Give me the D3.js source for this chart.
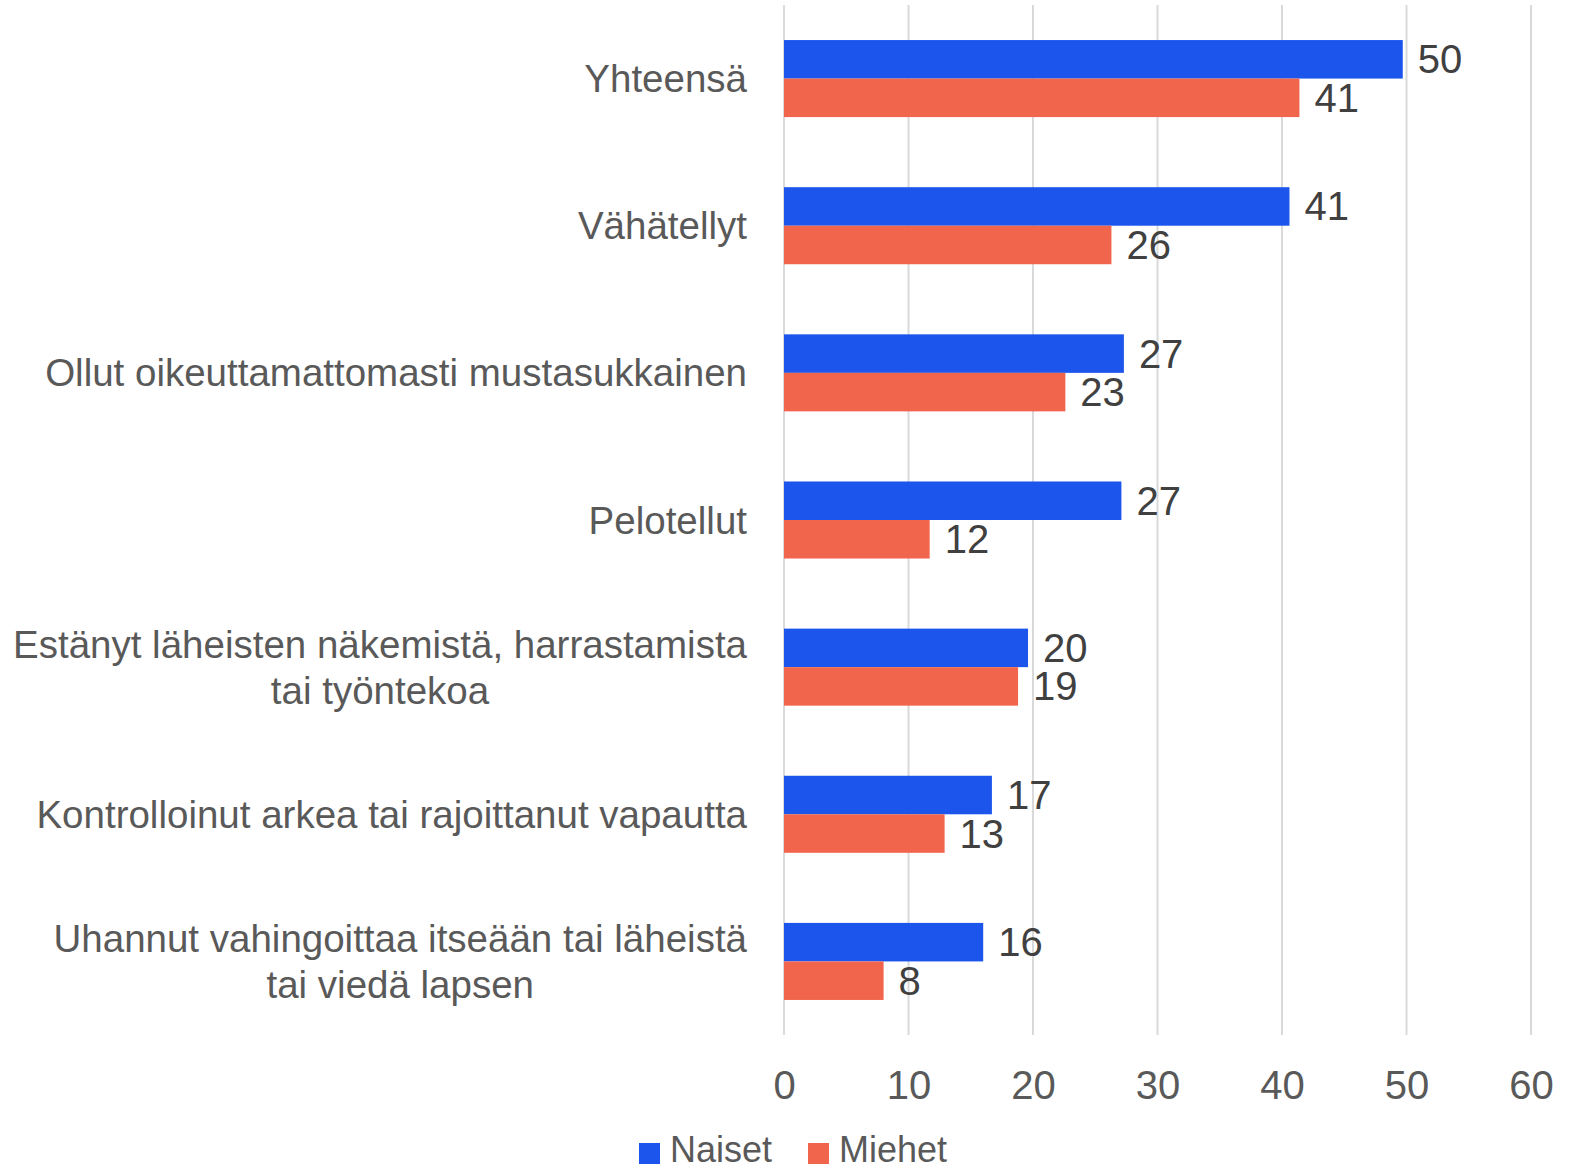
<!DOCTYPE html>
<html><head><meta charset="utf-8">
<script src="https://cdn.jsdelivr.net/npm/d3@7"></script>
<style>body{margin:0;background:#fff}svg{display:block}text{font-family:"Liberation Sans",Arial,sans-serif}</style>
</head><body><div id="chart"></div>
<script>
const categories = [
  ["Yhteensä"],
  ["Vähätellyt"],
  ["Ollut oikeuttamattomasti mustasukkainen"],
  ["Pelotellut"],
  ["Estänyt läheisten näkemistä, harrastamista", "tai työntekoa"],
  ["Kontrolloinut arkea tai rajoittanut vapautta"],
  ["Uhannut vahingoittaa itseään tai läheistä", "tai viedä lapsen"]
];
const seriesNames = ["Naiset", "Miehet"];
const naiset = [49.7, 40.6, 27.3, 27.1, 19.6, 16.7, 16.0];
const miehet = [41.4, 26.3, 22.6, 11.7, 18.8, 12.9, 8.0];
const xTicks = [0, 10, 20, 30, 40, 50, 60];
const colors = ["#1b55ec", "#f2654d"];

const W = 1580, H = 1170, fs = 38.5, fsNum = 40;
const svg = d3.select("#chart").append("svg").attr("width", W).attr("height", H);
const x = d3.scaleLinear().domain([0, 60]).range([784, 1531]);
const y = d3.scaleBand().domain(d3.range(categories.length)).range([5, 1035]);
const bw = y.bandwidth();
const barH = bw / 3.82;
const y1 = d3.scaleBand().domain(seriesNames).range([(bw - 2 * barH) / 2, (bw + 2 * barH) / 2]);

// gridlines
svg.append("g").selectAll("line").data(xTicks).join("line")
  .attr("x1", d => x(d)).attr("x2", d => x(d)).attr("y1", 5).attr("y2", 1035)
  .attr("stroke", "#d9d9d9").attr("stroke-width", 2);

// x axis tick labels
const xAxis = d3.axisBottom(x).tickValues(xTicks).tickSize(0).tickPadding(0);
const gx = svg.append("g").attr("transform", "translate(0,1085)").call(xAxis);
gx.select(".domain").remove();
gx.selectAll("text").attr("font-size", fsNum).attr("fill", "#595959").attr("dy", null)
  .attr("dominant-baseline", "central").attr("y", 0).style("font-family", '"Liberation Sans",Arial,sans-serif');

const data = [naiset, miehet];
seriesNames.forEach((s, si) => {
  const g = svg.append("g");
  g.selectAll("rect").data(data[si]).join("rect")
    .attr("x", x(0)).attr("y", (d, i) => y(i) + y1(s))
    .attr("width", d => x(d) - x(0)).attr("height", y1.bandwidth())
    .attr("fill", colors[si]);
  g.selectAll("text").data(data[si]).join("text")
    .attr("x", d => x(d) + 15).attr("y", (d, i) => y(i) + y1(s) + y1.bandwidth() / 2)
    .attr("dominant-baseline", "central").attr("font-size", fsNum).attr("fill", "#404040")
    .text(d => Math.round(d));
});

// category labels
const labelRight = 747, lineH = 46;
categories.forEach((lines, i) => {
  const cy = y(i) + bw / 2;
  const g = svg.append("g");
  const texts = lines.map((l, li) => g.append("text")
    .attr("font-size", fs).attr("fill", "#595959").attr("dominant-baseline", "central")
    .attr("y", cy + (li - (lines.length - 1) / 2) * lineH).text(l));
  const maxW = d3.max(texts, t => t.node().getComputedTextLength());
  texts.forEach(t => t.attr("text-anchor", "middle").attr("x", labelRight - maxW / 2));
});

// legend
const legX = [639, 808];
seriesNames.forEach((s, si) => {
  svg.append("rect").attr("x", legX[si]).attr("y", 1143).attr("width", 21).attr("height", 21).attr("fill", colors[si]);
  svg.append("text").attr("x", legX[si] + 31).attr("y", 1162)
    .attr("font-size", 36).attr("fill", "#595959").text(s);
});
</script></body></html>
